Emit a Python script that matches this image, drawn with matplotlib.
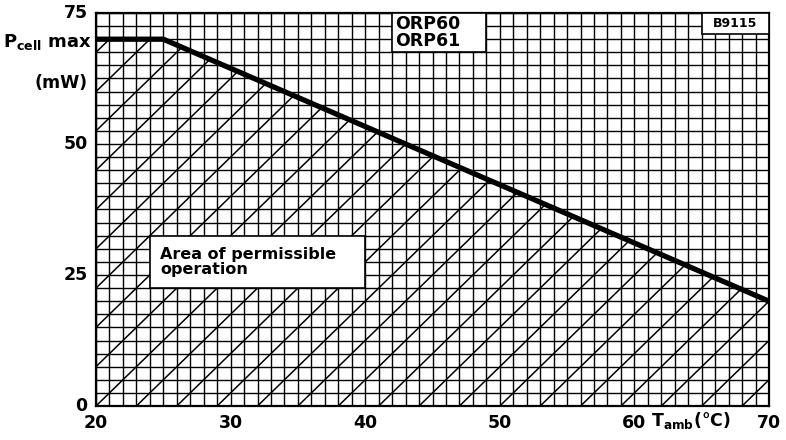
# derating curve: max cell power vs ambient temperature
import numpy as np
import matplotlib.pyplot as plt
from matplotlib.patches import Polygon, Rectangle

# curve data
temp = [20, 25, 70]      # T_amb (degC)
pmax = [70, 70, 20]      # P_cell max (mW)

xticks = [20, 30, 40, 50, 60, 70]
yticks = [0, 25, 50, 75]

plt.rcParams['font.family'] = 'DejaVu Sans'
plt.rcParams['font.weight'] = 'bold'
plt.rcParams['mathtext.default'] = 'regular'
fig = plt.figure(figsize=(7.86, 4.40), dpi=100)
ax = fig.add_axes([96/786, 1-406/440, (769-96)/786, (406-13)/440])

ax.set_xlim(20, 70)
ax.set_ylim(0, 75)

# fine grid, 1 degC x 2.5 mW
ax.set_xticks(np.arange(20, 71, 1), minor=True)
ax.set_yticks(np.arange(0, 76, 2.5), minor=True)
ax.set_xticks(xticks)
ax.set_yticks(yticks)
ax.grid(which='both', color='black', lw=1.0, zorder=1)
ax.set_axisbelow(True)
ax.tick_params(which='both', length=0, labelsize=12.5, pad=6)
ax.set_xticklabels([str(v) for v in xticks])
ax.set_yticklabels([str(v) for v in yticks])
for lab in ax.get_yticklabels():
    lab.set_verticalalignment('center')
for sp in ax.spines.values():
    sp.set_linewidth(1.6)

# hatch under the curve, diagonals every 3 cells
region = Polygon(np.column_stack([[20] + temp + [70], [0] + pmax + [0]]),
                 closed=True, facecolor='none', edgecolor='none')
ax.add_patch(region)
for k in range(-12, 18):
    x0 = 20 + 3*k
    ln, = ax.plot([x0, x0 + 30], [0, 75], color='black', lw=1.1, zorder=2)
    ln.set_clip_path(region)

ax.plot(temp, pmax, color='black', lw=3.8, solid_capstyle='butt', zorder=5)

# labelled boxes
def box(x0, x1, y0, y1):
    ax.add_patch(Rectangle((x0, y0), x1 - x0, y1 - y0, facecolor='white',
                           edgecolor='black', lw=1.2, zorder=4, clip_on=False))

box(24, 40, 22.5, 32.5)
ax.text(24.75, 27.5, 'Area of permissible\noperation', fontsize=11.5, va='center',
        ha='left', linespacing=0.95, zorder=6)
box(42, 49, 67.5, 75)
ax.text(42.2, 71.3, 'ORP60\nORP61', fontsize=12.5, va='center', ha='left',
        linespacing=0.9, zorder=6)
box(65, 70, 71, 75)
ax.text(67.5, 73.0, 'B9115', fontsize=9, va='center', ha='center', zorder=6)

# axis titles
fig.text(3/786, 1-42/440, r'P$_{cell}$ max', fontsize=13, va='center', ha='left')
fig.text(35/786, 1-83/440, '(mW)', fontsize=12.5, va='center', ha='left')
fig.text(651/786, 1-420/440, r'T$_{amb}$(°C)', fontsize=12.5, va='center', ha='left')

fig.savefig('out.png', dpi=100, facecolor='white')
